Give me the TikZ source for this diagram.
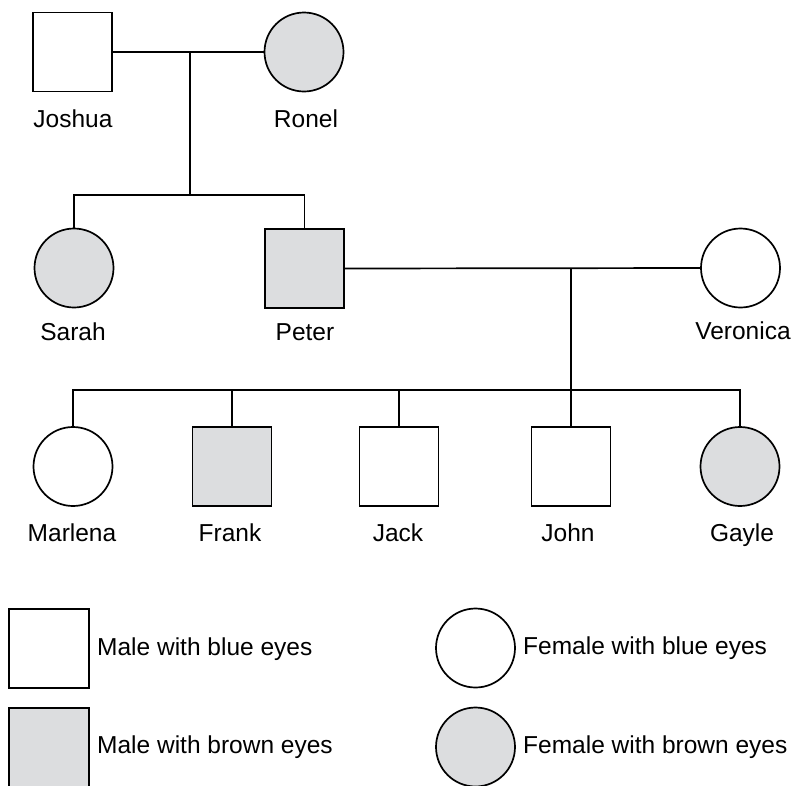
\documentclass[tikz,border=0pt]{standalone}
\usepackage{fontspec}
\setmainfont{Liberation Sans}
\definecolor{kinfill}{RGB}{220,221,223}
\begin{document}
\begin{tikzpicture}[x=1pt,y=-1pt,
  every node/.style={font=\fontsize{24.5}{29}\selectfont},
  line/.style={line width=1.7pt,black},
  male/.style={draw,line width=1.7pt,rectangle,minimum width=79pt,minimum height=79pt,inner sep=0pt},
  female/.style={draw,line width=1.7pt,circle,minimum size=79pt,inner sep=0pt},
  brown/.style={fill=kinfill},
  blue/.style={fill=white},
  lbl/.style={anchor=base,inner sep=0pt},
  keytext/.style={anchor=base west,inner sep=0pt}]
\useasboundingbox (0,0) rectangle (795,785);
\clip (0,0) rectangle (795,785);
% generation 1
\node[male,blue] (joshua) at (72.5,52) {};
\node[female,brown] (ronel) at (304,52) {};
\node[lbl] (ljoshua) at (73,127) {Joshua};
\node[lbl] (lronel) at (306,127) {Ronel};
% generation 2
\node[female,brown] (sarah) at (74,268) {};
\node[male,brown] (peter) at (304.5,268.5) {};
\node[female,blue] (veronica) at (740.5,268) {};
\node[lbl] (lsarah) at (73,340) {Sarah};
\node[lbl] (lpeter) at (305,340) {Peter};
\node[lbl] (lveronica) at (743,339) {Veronica};
% generation 3
\node[female,blue] (marlena) at (73,466.5) {};
\node[male,brown] (frank) at (232,466.5) {};
\node[male,blue] (jack) at (399,466.5) {};
\node[male,blue] (john) at (571,466.5) {};
\node[female,brown] (gayle) at (740,466.5) {};
\node[lbl] (lmarlena) at (72,541) {Marlena};
\node[lbl] (lfrank) at (230,541) {Frank};
\node[lbl] (ljack) at (398,541) {Jack};
\node[lbl] (ljohn) at (568,541) {John};
\node[lbl] (lgayle) at (742,541) {Gayle};
% connectors
\coordinate (m1) at (190,52);
\coordinate (s1) at (190,195);
\coordinate (m2) at (571,268);
\coordinate (s2) at (571,390);
\draw[line] (joshua.east) -- (ronel.west);
\draw[line] (m1) -- (s1);
\draw[line] (sarah.north) |- (s1) -| (peter.north);
\draw[line] (peter.east) -- (veronica.west);
\draw[line] (m2) -- (s2);
\draw[line] (marlena.north) |- (s2) -| (gayle.north);
\draw[line] (frank.north) -- (frank.north |- s2);
\draw[line] (jack.north) -- (jack.north |- s2);
\draw[line] (john.north) -- (john.north |- s2);
% legend
\node[male,blue,minimum width=80pt] (kmb) at (49,648.5) {};
\node[male,brown,minimum width=80pt] (kmbr) at (49,747.5) {};
\node[female,blue] (kfb) at (475.5,648) {};
\node[female,brown] (kfbr) at (475.5,747) {};
\node[keytext] (tmb) at (97,655) {Male with blue eyes};
\node[keytext] (tmbr) at (97,753) {Male with brown eyes};
\node[keytext] (tfb) at (523,654) {Female with blue eyes};
\node[keytext] (tfbr) at (523,753) {Female with brown eyes};
\end{tikzpicture}
\end{document}
